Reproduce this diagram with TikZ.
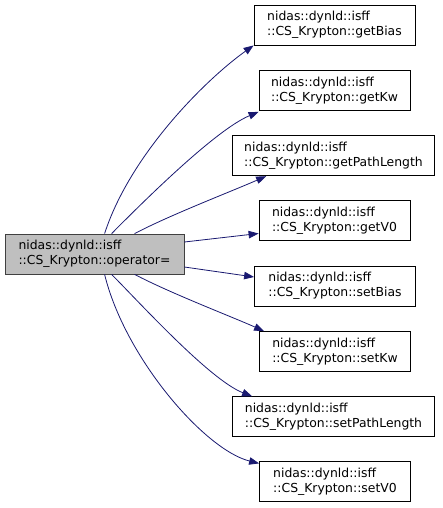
\documentclass[tikz,border=0pt]{standalone}
\usepackage{fontspec}
\setmainfont{DejaVu Sans}
\usetikzlibrary{arrows.meta}
\definecolor{edgeblue}{HTML}{191970}
\definecolor{rootfill}{HTML}{BFBFBF}
\definecolor{rootline}{HTML}{404040}
\tikzset{
  fnbox/.style={draw=black, line width=0.8pt, fill=white, minimum height=40pt, inner xsep=0pt, inner ysep=0pt,
    align=left, font=\fontsize{12.4pt}{15pt}\selectfont},
  rootbox/.style={fnbox, draw=rootline, fill=rootfill},
  call/.style={draw=edgeblue, line width=0.8pt, -{Triangle[length=10pt,width=7.5pt]}, fill=none},
}
\begin{document}
\begin{tikzpicture}[x=1pt,y=-1pt]
\useasboundingbox (0,0) rectangle (443,508);
\node[rootbox, minimum width=179pt] (op) at (94.5,254) {nidas::dynld::isff\\::CS\_Krypton::operator=};
\node[fnbox, minimum width=161pt] (gb) at (334.5,25) {nidas::dynld::isff\\::CS\_Krypton::getBias};
\node[fnbox, minimum width=151pt] (gk) at (334.5,90.5) {nidas::dynld::isff\\::CS\_Krypton::getKw};
\node[fnbox, minimum width=202pt] (gp) at (333.5,155.8) {nidas::dynld::isff\\::CS\_Krypton::getPathLength};
\node[fnbox, minimum width=151pt] (gv) at (334.5,220.5) {nidas::dynld::isff\\::CS\_Krypton::getV0};
\node[fnbox, minimum width=161pt] (sb) at (335,286) {nidas::dynld::isff\\::CS\_Krypton::setBias};
\node[fnbox, minimum width=151pt] (sk) at (335,351.5) {nidas::dynld::isff\\::CS\_Krypton::setKw};
\node[fnbox, minimum width=202pt] (sp) at (333.5,416.7) {nidas::dynld::isff\\::CS\_Krypton::setPathLength};
\node[fnbox, minimum width=151pt] (sv) at (335,481.8) {nidas::dynld::isff\\::CS\_Krypton::setV0};

\draw[call] ([xshift=100pt]op.north west) .. controls (130,155) and (205,80) .. (gb.south west);
\draw[call] ([xshift=107pt]op.north west) .. controls (140,205) and (215,130) .. ([yshift=-1pt]gk.south west);
\draw[call] ([xshift=130pt]op.north west) .. controls (170,215) and (230,192) .. ([xshift=34pt]gp.south west);
\draw[call] ([yshift=12pt]op.east) -- ([yshift=-13pt]gv.west);
\draw[call] ([yshift=-13pt]op.east) -- ([yshift=9pt]sb.west);
\draw[call] ([xshift=130pt]op.south west) .. controls (170,293) and (230,316) .. ([xshift=5pt]sk.north west);
\draw[call] ([xshift=107pt]op.south west) .. controls (140,303) and (210,380) .. ([xshift=20pt]sp.north west);
\draw[call] ([xshift=100pt]op.south west) .. controls (125,358) and (205,450) .. ([yshift=-2pt]sv.north west);
\end{tikzpicture}
\end{document}
